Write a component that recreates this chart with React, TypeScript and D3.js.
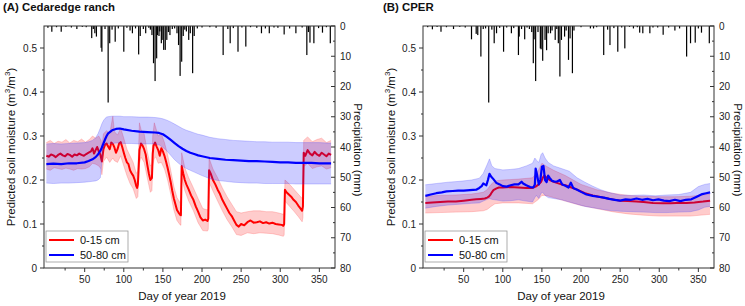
import React from "react";
import * as d3 from "d3";

// ---------- Panel A: Cedaredge ranch ----------
const aRedDay = [1,4,7,10,13,16,19,22,25,28,31,34,37,40,43,46,49,52,55,58,60,62,64,66,68,70,72,74,76,78,80,82,84,86,88,90,92,94,96,98,100,102,104,106,108,110,112,114,116,117,118,120,122,124,126,128,130,132,134,136,137,138,140,142,144,146,148,150,152,154,156,158,160,162,164,166,168,170,172,173,174,176,178,180,183,186,189,192,195,198,201,204,207,208,209,211,214,217,220,223,226,229,232,235,238,241,244,247,250,254,258,262,266,270,274,278,282,286,290,294,298,302,304,305,306,308,311,314,317,320,323,326,328,329,330,332,335,338,341,344,347,350,353,356,359,362,365];
const aRed = [.255,.253,.258,.256,.252,.257,.26,.256,.254,.259,.257,.253,.258,.256,.26,.257,.255,.259,.262,.265,.272,.26,.268,.275,.265,.258,.242,.27,.28,.283,.276,.27,.285,.282,.274,.262,.27,.283,.286,.275,.262,.25,.24,.236,.222,.215,.21,.2,.186,.182,.19,.268,.283,.278,.27,.258,.235,.215,.2,.205,.26,.278,.285,.276,.268,.255,.272,.265,.255,.242,.228,.212,.195,.175,.158,.145,.132,.126,.121,.12,.232,.215,.2,.19,.178,.165,.155,.14,.128,.115,.108,.11,.107,.112,.222,.215,.2,.19,.178,.168,.155,.145,.135,.125,.118,.108,.098,.094,.1,.097,.104,.108,.103,.104,.106,.102,.104,.101,.103,.1,.099,.098,.096,.1,.178,.172,.167,.162,.155,.15,.142,.135,.13,.14,.262,.255,.268,.26,.256,.264,.258,.255,.262,.258,.254,.26,.257];
const aRedBandDay = [1,6,11,16,21,26,31,36,41,46,51,56,60,64,68,71,72,74,78,82,86,88,92,96,100,104,108,112,116,118,120,122,126,130,134,136,137,139,141,144,148,152,156,160,164,168,172,173,174,178,183,189,195,201,207,208,209,214,220,226,232,238,244,250,258,266,274,282,290,298,304,305,306,311,317,323,328,329,330,335,341,347,353,359,365];
const aRedLo = [.225,.222,.228,.226,.224,.227,.225,.222,.226,.225,.226,.23,.238,.236,.232,.225,.212,.242,.252,.24,.25,.244,.24,.255,.232,.21,.192,.18,.158,.162,.238,.252,.24,.205,.172,.176,.232,.25,.252,.238,.24,.225,.2,.168,.132,.108,.098,.097,.205,.176,.152,.13,.103,.085,.084,.088,.195,.175,.152,.13,.11,.094,.076,.074,.08,.078,.08,.079,.078,.075,.072,.075,.152,.142,.13,.117,.105,.115,.23,.238,.226,.23,.232,.225,.228];
const aRedHi = [.285,.29,.283,.288,.286,.292,.284,.29,.287,.293,.286,.292,.3,.295,.3,.29,.275,.305,.312,.305,.345,.31,.302,.318,.295,.27,.255,.24,.215,.22,.33,.315,.305,.265,.232,.236,.3,.33,.318,.3,.305,.285,.258,.222,.185,.16,.148,.146,.262,.228,.205,.182,.158,.135,.132,.135,.25,.225,.205,.182,.162,.145,.128,.125,.128,.13,.13,.128,.128,.125,.122,.125,.2,.192,.18,.168,.158,.17,.29,.298,.287,.292,.295,.285,.29];
const aBlueDay = [1,10,20,30,40,50,55,60,64,67,70,72,74,76,78,80,85,90,95,100,110,120,130,140,145,150,155,160,165,170,175,180,185,190,195,200,210,220,230,240,250,260,270,280,290,300,310,320,330,340,350,360,365];
const aBlue = [.236,.237,.236,.238,.238,.24,.243,.247,.252,.258,.266,.274,.283,.292,.3,.306,.313,.316,.317,.315,.312,.31,.309,.308,.307,.304,.298,.291,.284,.277,.271,.266,.262,.259,.256,.254,.25,.248,.246,.245,.244,.243,.243,.242,.241,.24,.24,.239,.239,.239,.238,.238,.238];
const aBlueLo = [.193,.192,.193,.193,.194,.195,.196,.197,.198,.2,.205,.24,.275,.28,.282,.283,.283,.284,.284,.283,.283,.282,.282,.282,.28,.274,.266,.256,.246,.238,.231,.226,.222,.218,.214,.21,.203,.199,.197,.195,.194,.193,.193,.192,.192,.192,.192,.191,.191,.191,.191,.191,.191];
const aBlueHi = [.282,.283,.282,.283,.284,.285,.287,.29,.296,.305,.318,.328,.335,.34,.343,.344,.345,.345,.345,.344,.344,.343,.343,.342,.341,.339,.336,.332,.327,.322,.317,.313,.31,.307,.304,.302,.297,.294,.292,.29,.289,.288,.287,.287,.286,.286,.286,.285,.285,.285,.285,.284,.284];
const aPrecipDay = [3,8,14,20,26,33,40,47,52,59,61,63,65,71,72,76,80,82,85,89,93,100,104,108,111,115,119,121,125,128,132,134,136,138,140,142,143,145,146,148,149,151,153,155,157,159,162,165,168,170,172,174,176,178,180,183,185,188,190,194,200,210,218,227,233,236,240,246,251,256,262,270,276,281,286,292,297,305,312,320,328,334,336,338,343,349,354,359,364];
const aPrecipMm = [0.6,1.9,0.4,1.9,0.3,0.5,1.0,0.3,0.4,4.0,1.0,2.4,3.5,7.2,8.5,1.0,25.3,5.7,1.2,5.2,0.8,8.5,0.6,1.5,2.4,0.8,9.4,3.3,1.0,2.4,0.6,1.2,3.0,12.3,18.2,10.7,3.0,3.3,1.8,5.7,4.6,7.9,7.9,4.6,2.0,3.0,1.0,0.8,2.4,6.3,16.5,11.8,3.3,1.2,1.8,4.6,2.4,15.6,3.3,0.8,0.5,0.4,0.6,9.6,1.0,5.7,0.7,8.5,0.5,6.8,0.4,0.6,2.4,0.8,2.4,0.5,0.6,2.8,0.8,2.4,0.5,9.6,2.0,5.5,5.7,0.7,2.2,0.4,5.7];

// ---------- Panel B: CPER ----------
const bRedDay = [1,10,20,30,40,50,60,66,72,77,80,82,84,86,88,92,95,100,110,120,130,138,142,146,149,151,153,156,160,165,170,175,180,186,195,205,215,228,240,250,260,271,280,292,305,314,322,335,345,356,365];
const bRed = [.148,.149,.15,.151,.151,.153,.155,.156,.157,.158,.16,.162,.166,.172,.177,.181,.183,.183,.184,.183,.182,.182,.185,.19,.196,.205,.21,.205,.2,.196,.193,.19,.188,.184,.178,.17,.165,.16,.156,.153,.152,.151,.15,.148,.147,.147,.148,.148,.149,.151,.153];
const bRedBandDay = [1,20,40,60,75,80,85,90,100,120,138,145,150,155,165,180,200,220,240,260,280,300,320,340,365];
const bRedLo = [.125,.126,.127,.128,.13,.133,.14,.146,.148,.148,.146,.155,.165,.165,.16,.152,.142,.135,.128,.123,.12,.118,.118,.118,.122];
const bRedHi = [.163,.165,.166,.168,.172,.178,.19,.198,.2,.202,.205,.22,.238,.232,.222,.21,.19,.178,.17,.165,.163,.162,.162,.163,.168];
const bBlueDay = [1,8,15,22,28,36,43,50,58,66,70,73,75,77,79,81,83,85,88,92,96,100,105,110,115,120,122,124,126,130,135,139,141,142,144,146,148,150,152,154,156,158,160,163,167,170,173,176,180,184,187,190,195,200,207,215,222,229,236,243,250,257,264,271,278,285,292,299,306,313,320,327,334,341,348,355,360,365];
const bBlue = [.164,.167,.17,.172,.174,.175,.176,.176,.177,.178,.182,.186,.192,.19,.188,.2,.214,.208,.202,.193,.19,.186,.185,.188,.19,.19,.193,.196,.192,.188,.184,.183,.19,.226,.21,.19,.2,.23,.232,.2,.195,.21,.205,.198,.196,.197,.2,.19,.187,.183,.194,.182,.178,.173,.167,.164,.162,.16,.157,.155,.153,.156,.155,.158,.155,.157,.154,.156,.153,.152,.155,.152,.155,.156,.162,.168,.17,.172];
const bBlueBandDay = [1,15,30,45,60,70,75,80,83,86,90,100,110,120,130,138,141,143,146,149,151,154,158,165,175,185,195,205,215,225,235,250,265,280,295,310,325,340,350,358,365];
const bBlueLo = [.136,.14,.143,.145,.147,.148,.152,.156,.158,.156,.155,.152,.153,.155,.152,.15,.16,.165,.158,.17,.172,.165,.16,.158,.155,.15,.145,.14,.137,.134,.131,.129,.128,.127,.126,.126,.127,.128,.132,.138,.14];
const bBlueHi = [.189,.192,.195,.197,.2,.204,.215,.235,.248,.232,.226,.223,.224,.226,.232,.238,.25,.245,.24,.258,.262,.25,.24,.232,.226,.22,.205,.195,.186,.178,.172,.166,.165,.166,.164,.166,.167,.172,.185,.19,.192];
const bPrecipDay = [4,10,16,21,28,37,45,52,60,66,68,72,75,78,82,86,89,92,96,101,105,111,114,120,121,124,128,131,134,137,139,140,142,145,148,149,151,154,156,158,161,163,167,169,171,173,175,179,181,184,186,189,191,200,212,216,220,229,234,237,242,247,252,256,262,267,272,275,279,288,292,298,305,312,320,326,335,340,346,350,354,364];
const bPrecipMm = [0.4,1.1,0.3,1.9,0.4,1.0,0.3,0.5,4.4,2.6,3.0,10.1,1.0,0.8,25.3,1.2,5.7,2.4,0.6,8.5,0.5,2.4,0.7,9.6,3.5,1.0,4.4,0.5,1.0,2.0,12.3,4.4,18.2,2.0,7.4,7.7,11.5,4.6,8.0,2.4,2.4,1.5,4.6,1.0,5.7,16.7,4.6,3.5,1.5,11.2,4.1,15.6,1.5,0.4,0.8,0.8,0.4,9.6,1.2,6.3,0.7,8.5,0.5,7.4,0.3,0.8,0.4,2.2,2.4,2.4,0.5,0.5,2.9,0.5,1.5,0.8,10.1,5.7,5.5,0.8,2.2,5.7];

const yTicks = [0, 0.1, 0.2, 0.3, 0.4, 0.5];
const yMinor = [0.05, 0.15, 0.25, 0.35, 0.45];
const pTicks = [0, 10, 20, 30, 40, 50, 60, 70, 80];
const pMinor = [5, 15, 25, 35, 45, 55, 65, 75];
const xTicks = [50, 100, 150, 200, 250, 300, 350];
const xMinor = [25, 75, 125, 175, 225, 275, 325];
const legendLabels = ["0-15 cm", "50-80 cm"];
const yLabelFmt = (v: number) => (v === 0 ? "0" : v.toFixed(1));

const FONT = "'Liberation Sans', Arial, sans-serif";

type Pt = { d: number; v: number };
type Bd = { d: number; lo: number; hi: number };

function zipLine(days: number[], vals: number[]): Pt[] {
  return days.map((d, i) => ({ d, v: vals[i] }));
}
function zipBand(days: number[], lo: number[], hi: number[]): Bd[] {
  return days.map((d, i) => ({ d, lo: lo[i], hi: hi[i] }));
}

interface PanelProps {
  left: number;
  right: number;
  title: string;
  titleX: number;
  yLabelX: number;
  pLabelX: number;
  xLabelX: number;
  red: Pt[];
  redBand: Bd[];
  blue: Pt[];
  blueBand: Bd[];
  precipDay: number[];
  precipMm: number[];
}

function Panel(p: PanelProps) {
  const top = 26, bottom = 268;
  const xs = d3.scaleLinear().domain([-2, 370]).range([p.left, p.right]);
  const ys = d3.scaleLinear().domain([0, 0.55]).range([bottom, top]);
  const ps = d3.scaleLinear().domain([0, 80]).range([top, bottom]);
  const line = d3.line<Pt>().x((d) => xs(d.d)).y((d) => ys(d.v));
  const area = d3.area<Bd>().x((d) => xs(d.d)).y0((d) => ys(d.lo)).y1((d) => ys(d.hi));
  const edgeLo = d3.line<Bd>().x((d) => xs(d.d)).y((d) => ys(d.lo));
  const edgeHi = d3.line<Bd>().x((d) => xs(d.d)).y((d) => ys(d.hi));
  const axisColor = "#333";
  const midY = (top + bottom) / 2;
  return (
    <g>
      <text x={p.titleX} y={11} fontFamily={FONT} fontSize={11.4} fontWeight="bold" fill="#111">{p.title}</text>
      {/* precipitation bars */}
      {p.precipDay.map((d, i) => (
        <rect key={"p" + i} x={xs(d) - 0.6} y={top} width={1.2} height={ps(p.precipMm[i]) - top} fill="#000" />
      ))}
      {/* red band + line */}
      <path d={area(p.redBand) || ""} fill="rgba(255,0,0,0.2)" stroke="none" />
      <path d={edgeLo(p.redBand) || ""} fill="none" stroke="rgba(255,60,60,0.35)" strokeWidth={0.7} />
      <path d={edgeHi(p.redBand) || ""} fill="none" stroke="rgba(255,60,60,0.35)" strokeWidth={0.7} />
      <path d={line(p.red) || ""} fill="none" stroke="#ff0000" strokeWidth={2} strokeLinejoin="round" />
      {/* blue band + line */}
      <path d={area(p.blueBand) || ""} fill="rgba(0,0,255,0.2)" stroke="none" />
      <path d={edgeLo(p.blueBand) || ""} fill="none" stroke="rgba(60,60,255,0.35)" strokeWidth={0.7} />
      <path d={edgeHi(p.blueBand) || ""} fill="none" stroke="rgba(60,60,255,0.35)" strokeWidth={0.7} />
      <path d={line(p.blue) || ""} fill="none" stroke="#0000ff" strokeWidth={2.2} strokeLinejoin="round" />
      {/* frame */}
      <rect x={p.left} y={top} width={p.right - p.left} height={bottom - top} fill="none" stroke={axisColor} strokeWidth={1} />
      {/* left axis */}
      {yTicks.map((t) => (
        <g key={"y" + t}>
          <line x1={p.left - 4} x2={p.left} y1={ys(t)} y2={ys(t)} stroke={axisColor} />
          <text x={p.left - 7} y={ys(t)} dy="0.35em" textAnchor="end" fontFamily={FONT} fontSize={10} fill="#222">{yLabelFmt(t)}</text>
        </g>
      ))}
      {yMinor.map((t) => (
        <line key={"ym" + t} x1={p.left - 2} x2={p.left} y1={ys(t)} y2={ys(t)} stroke={axisColor} />
      ))}
      {/* right axis */}
      {pTicks.map((t) => (
        <g key={"pr" + t}>
          <line x1={p.right - 4} x2={p.right} y1={ps(t)} y2={ps(t)} stroke={axisColor} />
          <text x={p.right + 5} y={ps(t)} dy="0.35em" textAnchor="start" fontFamily={FONT} fontSize={10} fill="#222">{t}</text>
        </g>
      ))}
      {pMinor.map((t) => (
        <line key={"pm" + t} x1={p.right - 2} x2={p.right} y1={ps(t)} y2={ps(t)} stroke={axisColor} />
      ))}
      {/* bottom axis */}
      {xTicks.map((t) => (
        <g key={"x" + t}>
          <line x1={xs(t)} x2={xs(t)} y1={bottom} y2={bottom + 4} stroke={axisColor} />
          <text x={xs(t)} y={283} textAnchor="middle" fontFamily={FONT} fontSize={10} fill="#222">{t}</text>
        </g>
      ))}
      {xMinor.map((t) => (
        <line key={"xm" + t} x1={xs(t)} x2={xs(t)} y1={bottom} y2={bottom + 2.5} stroke={axisColor} />
      ))}
      {/* axis labels */}
      <text x={p.xLabelX} y={300} textAnchor="middle" fontFamily={FONT} fontSize={11.5} fill="#111">Day of year 2019</text>
      <text transform={`translate(${p.yLabelX},${midY}) rotate(-90)`} textAnchor="middle" dominantBaseline="central" fontFamily={FONT} fontSize={11.5} fill="#111">
        Predicted soil moisture (m<tspan fontSize={8} dy={-4}>3</tspan><tspan dy={4}>/m</tspan><tspan fontSize={8} dy={-4}>3</tspan><tspan dy={4}>)</tspan>
      </text>
      <text transform={`translate(${p.pLabelX},${midY + 3}) rotate(90)`} textAnchor="middle" dominantBaseline="central" fontFamily={FONT} fontSize={11.5} fill="#111">Precipitation (mm)</text>
      {/* legend */}
      <g>
        <rect x={p.left + 2} y={231} width={82} height={31} fill="#fff" stroke="#999" strokeWidth={0.8} />
        <line x1={p.left + 5} x2={p.left + 30} y1={240} y2={240} stroke="#ff0000" strokeWidth={2} />
        <line x1={p.left + 5} x2={p.left + 30} y1={255} y2={255} stroke="#0000ff" strokeWidth={2} />
        <text x={p.left + 36} y={244} fontFamily={FONT} fontSize={11} fill="#111">{legendLabels[0]}</text>
        <text x={p.left + 36} y={259} fontFamily={FONT} fontSize={11} fill="#111">{legendLabels[1]}</text>
      </g>
    </g>
  );
}

export default function App() {
  return (
    <svg width={745} height={306} style={{ display: "block", position: "absolute", left: 0, top: 0 }}>
      <rect width={745} height={306} fill="#fff" />
      <Panel
        left={44} right={335} title="(A) Cedaredge ranch" titleX={3} yLabelX={11} pLabelX={358} xLabelX={182}
        red={zipLine(aRedDay, aRed)} redBand={zipBand(aRedBandDay, aRedLo, aRedHi)}
        blue={zipLine(aBlueDay, aBlue)} blueBand={zipBand(aBlueDay, aBlueLo, aBlueHi)}
        precipDay={aPrecipDay} precipMm={aPrecipMm}
      />
      <Panel
        left={423} right={714} title="(B) CPER" titleX={383} yLabelX={391} pLabelX={738} xLabelX={561}
        red={zipLine(bRedDay, bRed)} redBand={zipBand(bRedBandDay, bRedLo, bRedHi)}
        blue={zipLine(bBlueDay, bBlue)} blueBand={zipBand(bBlueBandDay, bBlueLo, bBlueHi)}
        precipDay={bPrecipDay} precipMm={bPrecipMm}
      />
    </svg>
  );
}
